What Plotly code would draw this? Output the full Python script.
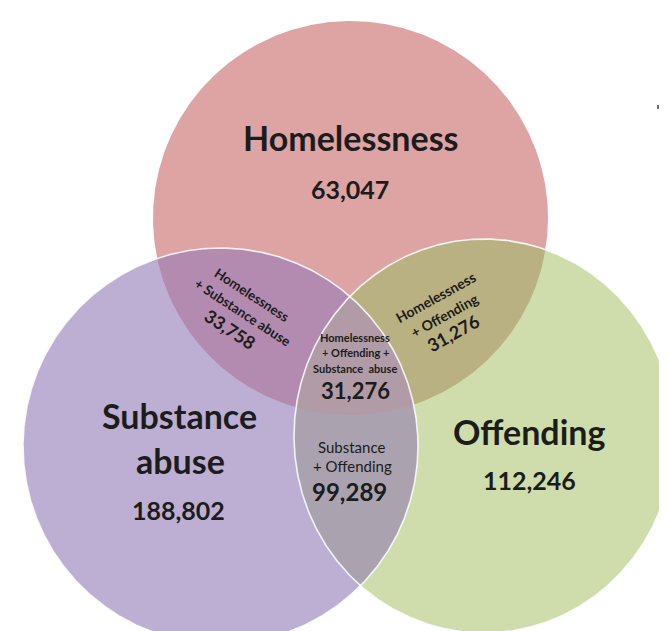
import numpy as np
import plotly.graph_objects as go

# ---------------- data ----------------
set_names = ["Homelessness", "Substance abuse", "Offending"]
set_counts = [63047, 188802, 112246]

pair_labels = ["Homelessness<br>+ Substance abuse", "Homelessness<br>+ Offending", "Substance<br>+ Offending"]
pair_counts = [33758, 31276, 99289]

triple_label = "Homelessness<br>+ Offending +<br>Substance  abuse"
triple_count = 31276

# ---------------- layout / styles ----------------
W, H = 667, 631
# ellipse geometry in pixel space: (cx, cy, rx, ry)
geom = {
    "H": (342.5, 210.0, 197.5, 197.0),
    "S": (212.5, 438.0, 197.5, 198.0),
    "O": (476.0, 428.0, 190.0, 197.0),
}
fill_single = {"H": "#DEA4A4", "S": "#BDAFD4", "O": "#CEDDAB"}
fill_pair = {("H", "S"): "#B38BB1", ("H", "O"): "#BAB182", ("S", "O"): "#AAA3AF"}
fill_triple = "#B09BA6"
TXT = "#1c1c1c"
FONT = "Lato"


def ellipse_pts(key, n=900):
    cx, cy, rx, ry = geom[key]
    t = np.linspace(0, 2 * np.pi, n, endpoint=False)
    return np.c_[cx + rx * np.cos(t), cy + ry * np.sin(t)]


def inside(pts, key):
    cx, cy, rx, ry = geom[key]
    return ((pts[:, 0] - cx) / rx) ** 2 + ((pts[:, 1] - cy) / ry) ** 2 <= 1.0 + 1e-9


def intersection(keys):
    parts = []
    for k in keys:
        p = ellipse_pts(k)
        m = np.ones(len(p), bool)
        for o in keys:
            if o != k:
                m &= inside(p, o)
        parts.append(p[m])
    pts = np.vstack(parts)
    c = pts.mean(axis=0)
    ang = np.arctan2(pts[:, 1] - c[1], pts[:, 0] - c[0])
    pts = pts[np.argsort(ang)]
    return np.vstack([pts, pts[:1]])


fig = go.Figure()


def add_poly(pts, color):
    fig.add_trace(go.Scatter(x=pts[:, 0], y=pts[:, 1], mode="lines", fill="toself",
                             fillcolor=color, line=dict(width=0, color=color),
                             hoverinfo="skip", showlegend=False))


for k in ["H", "S", "O"]:
    p = ellipse_pts(k)
    add_poly(np.vstack([p, p[:1]]), fill_single[k])
for keys, col in fill_pair.items():
    add_poly(intersection(list(keys)), col)
add_poly(intersection(["H", "S", "O"]), fill_triple)

for k in ["S", "O"]:
    p = ellipse_pts(k)
    p = np.vstack([p, p[:1]])
    fig.add_trace(go.Scatter(x=p[:, 0], y=p[:, 1], mode="lines",
                             line=dict(width=1.6, color="rgba(255,255,255,0.85)"),
                             hoverinfo="skip", showlegend=False))

# small stray dot
fig.add_trace(go.Scatter(x=[651], y=[99], mode="markers",
                         marker=dict(size=4, color="#6b6aa6", symbol="square"),
                         hoverinfo="skip", showlegend=False))


def txt(x, y, s, size, bold=True, angle=0):
    fig.add_annotation(x=x, y=y, xref="x", yref="y", showarrow=False,
                       text=f"<b>{s}</b>" if bold else s, textangle=angle,
                       font=dict(family=FONT, size=size, color=TXT))


fmt = lambda v: f"{v:,}"

# single sets
txt(343, 129, set_names[0], 34)
txt(342, 181, fmt(set_counts[0]), 25)
sub_word, abuse_word = set_names[1].split(" ")
txt(171, 407, sub_word, 34)
txt(172, 452, abuse_word, 34)
txt(170, 502, fmt(set_counts[1]), 25)
txt(521, 423, set_names[2], 34)
txt(521, 472, fmt(set_counts[2]), 25)

# Homelessness + Substance abuse (rotated)
l1, l2 = pair_labels[0].split("<br>")
txt(244, 287, l1, 13.5, angle=33)
txt(234, 304, l2, 13.5, angle=33)
txt(222, 321, fmt(pair_counts[0]), 18, angle=33)

# Homelessness + Offending (rotated)
l1, l2 = pair_labels[1].split("<br>")
txt(427, 289, l1, 14, angle=-29)
txt(436, 307, l2, 14, angle=-29)
txt(445, 325, fmt(pair_counts[1]), 18, angle=-29)

# Substance + Offending
l1, l2 = pair_labels[2].split("<br>")
txt(343, 439, l1, 15, bold=False)
txt(344, 458, l2, 15, bold=False)
txt(341, 483, fmt(pair_counts[2]), 24)

# triple
for i, line in enumerate(triple_label.split("<br>")):
    txt(347, 329 + 15.5 * i, line, 11)
txt(347, 382, fmt(triple_count), 22)

fig.update_layout(
    width=W, height=H, margin=dict(l=0, r=0, t=0, b=0),
    paper_bgcolor="white", plot_bgcolor="white", showlegend=False,
    xaxis=dict(range=[0, W], visible=False, fixedrange=True),
    yaxis=dict(range=[H, 0], visible=False, fixedrange=True),
)
fig.write_html("out.html")
